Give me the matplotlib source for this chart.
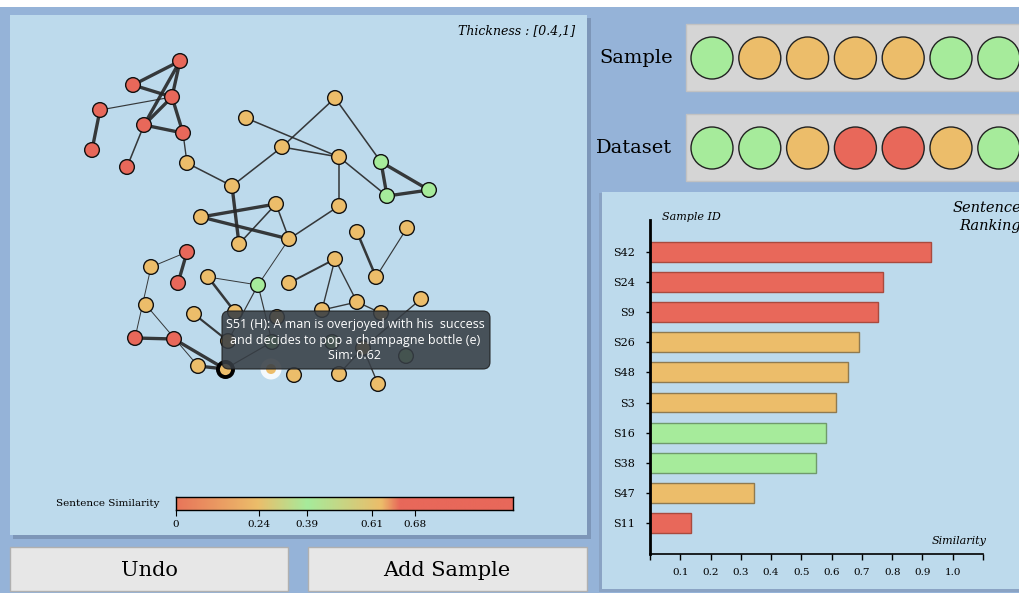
import numpy as np
import matplotlib.pyplot as plt
from matplotlib.patches import Rectangle, FancyBboxPatch
from matplotlib.colors import LinearSegmentedColormap

W, H = 1020, 593
SERIF = 'DejaVu Serif'

RED = '#e8685a'
ORANGE = '#ecbd6a'
GREEN = '#a6eb9b'
COLORS = {'r': RED, 'o': ORANGE, 'g': GREEN}
EDGES_OF = {'r': '#a94a3e', 'o': '#8f7a50', 'g': '#6f9a6c'}

# graph layout (panel units) and similarity class of every sentence node
node_x = [180, 133, 172, 100, 144, 183, 92, 127, 187, 246,
          282, 335, 232, 339, 381, 387, 429, 201, 276, 339,
          239, 289, 187, 151, 178, 208, 258, 289, 335, 357,
          376, 407, 146, 194, 235, 277, 322, 357, 381, 421,
          135, 174, 228, 272, 332, 363, 406, 198, 225, 271,
          294, 339, 378]
node_y = [61, 85, 97, 110, 125, 133, 150, 167, 163, 118,
          147, 98, 186, 157, 162, 196, 190, 217, 204, 206,
          244, 239, 252, 267, 283, 277, 285, 283, 259, 232,
          277, 228, 305, 314, 312, 317, 310, 302, 313, 299,
          338, 339, 341, 342, 342, 348, 356, 366, 369, 369,
          375, 374, 384]
node_cls = ['r', 'r', 'r', 'r', 'r', 'r', 'r', 'r', 'o', 'o',
            'o', 'o', 'o', 'o', 'g', 'g', 'g', 'o', 'o', 'o',
            'o', 'o', 'r', 'o', 'r', 'o', 'g', 'o', 'o', 'o',
            'o', 'o', 'o', 'o', 'o', 'o', 'o', 'o', 'o', 'o',
            'r', 'r', 'o', 'g', 'g', 'o', 'g', 'o', 'o', 'o',
            'o', 'o', 'o']
# (source, target, weight)
edges = [(0, 1, 1), (0, 2, 1), (0, 4, 1), (1, 2, 1), (2, 3, 0.45), (2, 4, 1),
         (2, 5, 1), (4, 5, 1), (3, 6, 1), (4, 7, 0.55), (5, 8, 0.5), (8, 12, 0.55),
         (12, 10, 0.55), (9, 13, 0.55), (10, 11, 0.55), (10, 13, 0.55), (11, 14, 0.55),
         (14, 15, 1), (14, 16, 1), (15, 16, 1), (13, 15, 0.55), (13, 19, 0.55),
         (19, 21, 0.55), (12, 20, 1), (17, 18, 1), (17, 21, 1), (18, 20, 0.55),
         (18, 21, 0.55), (21, 26, 0.4), (22, 24, 1), (22, 23, 0.4), (23, 40, 0.4),
         (25, 26, 0.4), (25, 34, 0.8), (26, 42, 0.45), (26, 43, 0.45), (27, 28, 0.65),
         (28, 36, 0.5), (28, 37, 0.5), (36, 37, 0.5), (37, 38, 0.5), (39, 45, 0.5),
         (45, 52, 0.5), (45, 51, 0.5), (29, 30, 0.8), (30, 31, 0.45), (32, 47, 0.4),
         (33, 42, 0.7), (40, 41, 1), (41, 48, 1), (47, 48, 1), (48, 43, 0.45)]
selected = 48
hovered = 49
tooltip = ['S51 (H): A man is overjoyed with his  success',
           'and decides to pop a champagne bottle (e)',
           'Sim: 0.62']

sample_cls = ['g', 'o', 'o', 'o', 'o', 'g', 'g']
dataset_cls = ['g', 'g', 'o', 'r', 'r', 'o', 'g']

rank_ids = ['S42', 'S24', 'S9', 'S26', 'S48', 'S3', 'S16', 'S38', 'S47', 'S11']
rank_sim = [0.927, 0.769, 0.753, 0.692, 0.654, 0.613, 0.58, 0.55, 0.343, 0.134]
rank_cls = ['r', 'r', 'r', 'o', 'o', 'o', 'g', 'g', 'o', 'r']

# legend scale: colour stops and labelled thresholds (the legend is not linear past 0.39)
cbar_stops = [0, 0.24, 0.39, 0.61, 0.665, 1.0]
cbar_cols = ['#e8755a', ORANGE, GREEN, ORANGE, RED, RED]
cbar_labels = ['0', '0.24', '0.39', '0.61', '0.68']
cbar_label_at = [0, 0.245, 0.39, 0.582, 0.71]


def px_rect(x0, y0, x1, y1):
    return [x0 / W, 1 - y1 / H, (x1 - x0) / W, (y1 - y0) / H]


fig = plt.figure(figsize=(W / 100, H / 100), dpi=100)
fig.patch.set_facecolor('#95b3d8')

# ---- canvas for the UI chrome ----
bg = fig.add_axes([0, 0, 1, 1])
bg.set_xlim(0, W)
bg.set_ylim(H, 0)
bg.axis('off')


def box(x0, y0, x1, y1, fc, ec='none', lw=0, z=1):
    bg.add_patch(Rectangle((x0, y0), x1 - x0, y1 - y0, fc=fc, ec=ec, lw=lw, zorder=z))


box(0, 0, W, 7, 'white')
box(13, 18, 591, 539, '#7d96b8')
box(10, 15, 587, 535, '#bddaec', z=2)
box(10, 547, 288, 591, '#e7e7e7', ec='#b0b0b0', lw=1)
box(308, 547, 587, 591, '#e7e7e7', ec='#b0b0b0', lw=1)
bg.text(149, 570, 'Undo', ha='center', va='center', fontsize=15, family=SERIF)
bg.text(447, 570, 'Add Sample', ha='center', va='center', fontsize=15, family=SERIF)

box(686, 24, W + 5, 91, '#d5d5d5', ec='#c2c2c2', lw=1)
box(686, 114, W + 5, 181, '#d5d5d5', ec='#c2c2c2', lw=1)
bg.text(636, 58, 'Sample', ha='center', va='center', fontsize=14, family=SERIF)
bg.text(634, 148, 'Dataset', ha='center', va='center', fontsize=14, family=SERIF)
slot = np.arange(len(sample_cls)) * 47.8 + 712
bg.scatter(slot, [58] * len(slot), s=(42 * 0.72) ** 2, c=[COLORS[c] for c in sample_cls],
           edgecolors='#222222', linewidths=1, zorder=3)
bg.scatter(slot, [148] * len(slot), s=(42 * 0.72) ** 2, c=[COLORS[c] for c in dataset_cls],
           edgecolors='#222222', linewidths=1, zorder=3)

box(599, 193, W + 5, 592, '#8aa3c4')
box(602, 192, W + 5, 589, '#bddaec', z=2)
bg.text(662, 217, 'Sample ID', style='italic', fontsize=8, family=SERIF, va='center', zorder=4)
bg.text(987, 541, 'Similarity', style='italic', fontsize=8, family=SERIF, ha='right', va='center', zorder=4)
bg.text(1021, 208, 'Sentence', style='italic', fontsize=10.5, family=SERIF, ha='right', va='center', zorder=4)
bg.text(1021, 226, 'Ranking', style='italic', fontsize=10.5, family=SERIF, ha='right', va='center', zorder=4)
bg.text(160, 504, 'Sentence Similarity', fontsize=7.5, family=SERIF, ha='right', va='center', zorder=4)

# ---- sentence graph ----
gx = fig.add_axes(px_rect(10, 15, 587, 535))
gx.set_xlim(10, 587)
gx.set_ylim(535, 15)
gx.axis('off')
gx.text(575, 31, 'Thickness : [0.4,1]', ha='right', va='center', style='italic',
        fontsize=9, family=SERIF)
for i, j, w in edges:
    lw = 0.7 + (w - 0.4) / 0.6 * 1.7
    gx.plot([node_x[i], node_x[j]], [node_y[i], node_y[j]], color='#262626',
            lw=lw, alpha=0.9, solid_capstyle='round', zorder=2)
idx = [k for k in range(len(node_x)) if k not in (selected, hovered)]
gx.scatter([node_x[k] for k in idx], [node_y[k] for k in idx], s=112,
           c=[COLORS[node_cls[k]] for k in idx], edgecolors='#111111', linewidths=1, zorder=3)
gx.scatter([node_x[selected]], [node_y[selected]], s=118, c=[COLORS[node_cls[selected]]],
           edgecolors='black', linewidths=2.8, zorder=4)
gx.scatter([node_x[hovered]], [node_y[hovered]], s=(21 * 0.72) ** 2, c='white', alpha=0.85,
           edgecolors='none', zorder=3)
gx.scatter([node_x[hovered]], [node_y[hovered]], s=(10 * 0.72) ** 2, c=[COLORS[node_cls[hovered]]],
           edgecolors='none', zorder=4)

r = 7
gx.add_patch(FancyBboxPatch((222 + r, 311 + r), 268 - 2 * r, 58 - 2 * r,
                            boxstyle='round,pad=%d' % r, fc='#373e45', ec='#1c1c1c',
                            lw=0.8, alpha=0.88, zorder=5))
for k, line in enumerate(tooltip):
    gx.text(355, 325 + k * 15.5, line, ha='center', va='center', color='white',
            fontsize=9, family='Open Sans', zorder=6)

# ---- colour legend ----
cmap = LinearSegmentedColormap.from_list('sim', list(zip(cbar_stops, cbar_cols)))
cx = fig.add_axes(px_rect(176, 497, 513, 510))
cx.imshow(np.linspace(0, 1, 512)[None, :], aspect='auto', cmap=cmap, extent=[0, 1, 0, 1])
cx.set_xlim(0, 1)
cx.set_yticks([])
cx.set_xticks(cbar_label_at)
cx.set_xticklabels(cbar_labels, fontsize=7.5, family=SERIF)
cx.tick_params(axis='x', length=4, width=0.8, pad=3)
for s in cx.spines.values():
    s.set_linewidth(1)

# ---- sentence ranking ----
bx = fig.add_axes(px_rect(650, 220, 983, 554))
bx.set_facecolor('none')
bx.barh(np.arange(len(rank_ids)), rank_sim, height=0.66,
        color=[COLORS[c] for c in rank_cls], edgecolor=[EDGES_OF[c] for c in rank_cls], lw=1)
bx.set_xlim(0, 1.1)
bx.set_ylim(10.03, -1.06)
bx.set_yticks(np.arange(len(rank_ids)))
bx.set_yticklabels(rank_ids, fontsize=8, family=SERIF)
xt = np.round(np.arange(0, 1.11, 0.1), 1)
bx.set_xticks(xt)
bx.set_xticklabels(['' if t in (0, 1.1) else '%.1f' % t for t in xt], fontsize=7.5, family=SERIF)
bx.tick_params(axis='y', length=3, width=1, pad=8)
bx.tick_params(axis='x', length=4, width=1, pad=6)
bx.spines['top'].set_visible(False)
bx.spines['right'].set_visible(False)
bx.spines['left'].set_linewidth(2)
bx.spines['bottom'].set_linewidth(1.2)

fig.savefig('out.png', dpi=100, facecolor=fig.get_facecolor())
